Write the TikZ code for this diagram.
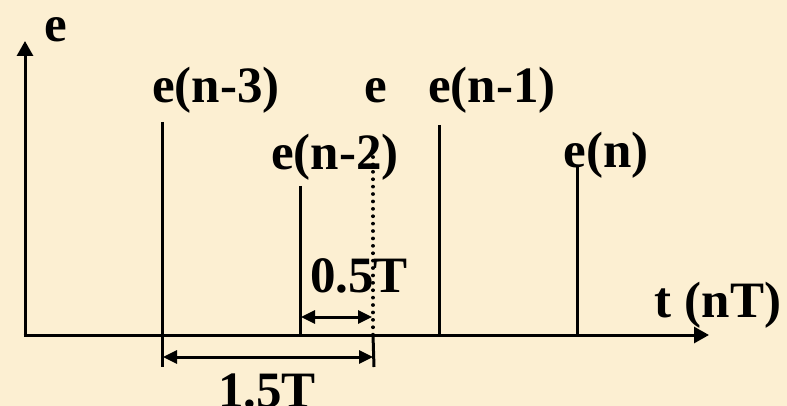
\documentclass[tikz,border=0pt]{standalone}
\usepackage{fontspec}
\setmainfont{Liberation Serif}
\usetikzlibrary{arrows.meta}
\definecolor{parch}{RGB}{252,239,210}
\begin{document}
\begin{tikzpicture}[x=1pt,y=-1pt,
  lbl/.style={font=\fontsize{51}{54}\selectfont\bfseries, inner sep=0pt, anchor=base},
  axis/.style={line width=3pt, -{Triangle[length=15pt,width=16pt]}},
  stem/.style={line width=3pt},
  dimarr/.style={line width=3pt, {Triangle[length=14pt,width=13pt]}-{Triangle[length=14pt,width=13pt]}, shorten <=1pt, shorten >=1pt},
  dotline/.style={line width=3.6pt, line cap=round, dash pattern=on 0.1pt off 7.3pt}]
\fill[parch] (0,0) rectangle (787,406);
\useasboundingbox (0,0) rectangle (787,406);
% axes
\coordinate (O) at (25,335);
\coordinate (ytop) at (25,41);
\coordinate (xend) at (709,335);
\draw[axis] (O) -- (ytop);
\draw[axis] ([xshift=-1.5pt]O) -- (xend);
% stems
\coordinate (s3t) at (162,122);
\coordinate (s3b) at (162,367);
\coordinate (s2t) at (300,186);
\coordinate (s2b) at (300,335);
\coordinate (s1t) at (439,125);
\coordinate (s1b) at (439,335);
\coordinate (s0t) at (577,166);
\coordinate (s0b) at (577,335);
\coordinate (dt) at (373,157);
\coordinate (db) at (373,335);
\coordinate (tick) at (374,367);
\draw[stem] (s3t) -- (s3b);
\draw[stem] (s2t) -- (s2b);
\draw[stem] (s1t) -- (s1b);
\draw[stem] (s0t) -- (s0b);
\draw[dotline] (dt) -- (db);
\draw[stem] (db) -- (tick);
% dimensions
\coordinate (a1) at (162,357);
\coordinate (a2) at (374,357);
\coordinate (b1) at (300,317);
\coordinate (b2) at (373,317);
\draw[dimarr] (a1) -- (a2);
\draw[dimarr] (b1) -- (b2);
% labels
\node[lbl] (le) at (56,42) {e};
\node[lbl] (l3) at (216,103) {e(n-3)};
\node[lbl] (lm) at (376,103) {e};
\node[lbl] (l1) at (492,103) {e(n-1)};
\node[lbl] (l2) at (335,170) {e(n-2)};
\node[lbl] (l0) at (606,168) {e(n)};
\node[lbl] (lt) at (718,317) {t (nT)};
\node[lbl] (l05) at (359,292) {0.5T};
\node[lbl] (l15) at (267,407) {1.5T};
\end{tikzpicture}
\end{document}
